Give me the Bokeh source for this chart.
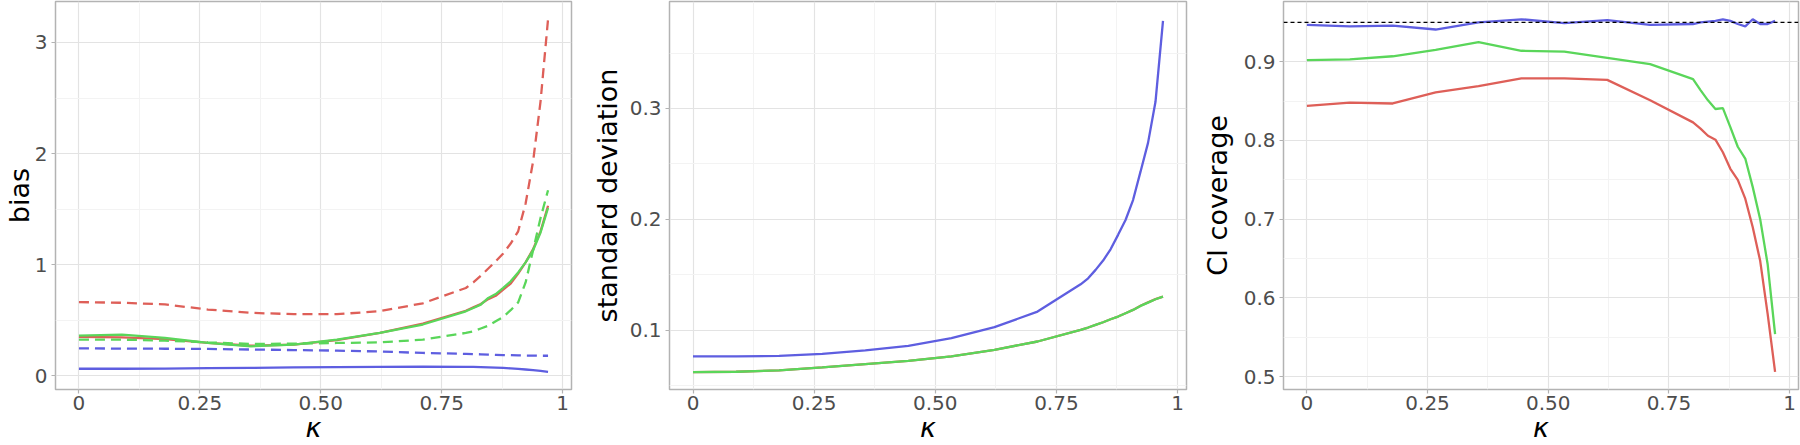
from bokeh.plotting import figure
from bokeh.layouts import row
from bokeh.models import FixedTicker, Span, Range1d
from bokeh.embed import file_html
from bokeh.resources import INLINE

# ---------------- data ----------------
kappa = [0.0, 0.0889, 0.1778, 0.2667, 0.3556, 0.4444, 0.5333, 0.6222, 0.7111, 0.8,
         0.8155, 0.8309, 0.8464, 0.8618, 0.8773, 0.8927, 0.9082, 0.9236, 0.9391, 0.9545, 0.97]

# bias panel
bias_red_solid = [0.35, 0.345, 0.33, 0.295, 0.27, 0.28, 0.32, 0.385, 0.47, 0.585,
                  0.615, 0.645, 0.69, 0.72, 0.775, 0.83, 0.92, 1.02, 1.14, 1.30, 1.53]
bias_red_dashed = [0.663, 0.657, 0.642, 0.596, 0.566, 0.554, 0.554, 0.581, 0.652, 0.79,
                   0.84, 0.90, 0.965, 1.03, 1.10, 1.19, 1.30, 1.55, 1.93, 2.47, 3.21]
bias_green_solid = [0.361, 0.370, 0.34, 0.295, 0.265, 0.28, 0.325, 0.386, 0.461, 0.58,
                    0.61, 0.64, 0.70, 0.735, 0.79, 0.85, 0.93, 1.02, 1.13, 1.29, 1.51]
bias_green_dashed = [0.325, 0.325, 0.316, 0.30, 0.286, 0.289, 0.295, 0.30, 0.325, 0.385,
                     0.40, 0.425, 0.45, 0.49, 0.53, 0.59, 0.66, 0.84, 1.13, 1.42, 1.67]
bias_blue_solid = [0.063, 0.063, 0.064, 0.068, 0.071, 0.075, 0.078, 0.080, 0.082, 0.080,
                   0.079, 0.077, 0.075, 0.073, 0.070, 0.066, 0.062, 0.056, 0.050, 0.043, 0.035]
bias_blue_dashed = [0.247, 0.244, 0.243, 0.241, 0.236, 0.231, 0.226, 0.218, 0.205, 0.197,
                    0.195, 0.193, 0.190, 0.188, 0.186, 0.185, 0.183, 0.182, 0.181, 0.180, 0.180]

# standard deviation panel
sd_red = [0.0622, 0.0625, 0.0637, 0.0664, 0.0694, 0.0724, 0.0763, 0.0823, 0.0898, 0.1003,
          0.1024, 0.1048, 0.1072, 0.1099, 0.1123, 0.1153, 0.1183, 0.1221, 0.1251, 0.1280, 0.1303]
sd_green = [0.0622, 0.0625, 0.0637, 0.0664, 0.0694, 0.0724, 0.0763, 0.0823, 0.0898, 0.1003,
            0.1024, 0.1048, 0.1072, 0.1099, 0.1123, 0.1153, 0.1183, 0.1219, 0.1249, 0.1279, 0.1303]
sd_blue = [0.0763, 0.0763, 0.0769, 0.0787, 0.0817, 0.0859, 0.0928, 0.1027, 0.1168, 0.1414,
           0.1468, 0.1544, 0.1628, 0.1730, 0.1860, 0.1994, 0.2174, 0.2430, 0.2690, 0.3060, 0.3790]

# CI coverage panel
ci_red = [0.844, 0.848, 0.847, 0.861, 0.869, 0.879, 0.879, 0.877, 0.851, 0.823,
          0.815, 0.806, 0.801, 0.785, 0.764, 0.750, 0.726, 0.690, 0.647, 0.580, 0.506]
ci_green = [0.902, 0.903, 0.907, 0.915, 0.925, 0.914, 0.913, 0.905, 0.897, 0.878,
            0.864, 0.851, 0.840, 0.841, 0.817, 0.792, 0.777, 0.741, 0.700, 0.643, 0.554]
ci_blue = [0.947, 0.945, 0.946, 0.941, 0.950, 0.954, 0.949, 0.953, 0.947, 0.948,
           0.950, 0.951, 0.952, 0.954, 0.952, 0.948, 0.945, 0.954, 0.948, 0.948, 0.952]
ci_nominal = 0.95

x_ticks = [0, 0.25, 0.5, 0.75, 1]
x_tick_labels = ["0", "0.25", "0.50", "0.75", "1"]
x_minor = [0.125, 0.375, 0.625, 0.875]

bias_ticks = [0, 1, 2, 3]
bias_tick_labels = ["0", "1", "2", "3"]
bias_minor = [0.5, 1.5, 2.5]
sd_ticks = [0.1, 0.2, 0.3]
sd_tick_labels = ["0.1", "0.2", "0.3"]
sd_minor = [0.05, 0.15, 0.25, 0.35]
ci_ticks = [0.5, 0.6, 0.7, 0.8, 0.9]
ci_tick_labels = ["0.5", "0.6", "0.7", "0.8", "0.9"]
ci_minor = [0.55, 0.65, 0.75, 0.85, 0.95]

RED = "#DE5F58"
GREEN = "#5AD65A"
BLUE = "#5E5EE0"
FONT = "DejaVu Sans"
X_RANGE = (-0.0485, 1.0185)
H = 445
BTOP = 1
BBOT = 56


def make_fig(width, bl, br, yr, yt, ytl, ym, ylabel, y_standoff):
    p = figure(width=width, height=H, x_range=Range1d(*X_RANGE), y_range=Range1d(*yr),
               output_backend="svg", toolbar_location=None,
               min_border_left=bl, min_border_right=br,
               min_border_top=BTOP, min_border_bottom=BBOT)
    p.background_fill_color = "white"
    p.border_fill_color = "white"
    p.outline_line_color = "#B3B3B3"
    p.outline_line_width = 1.5

    p.xaxis.ticker = FixedTicker(ticks=x_ticks, minor_ticks=x_minor)
    p.xaxis.major_label_overrides = {float(t): l for t, l in zip(x_ticks, x_tick_labels)}
    p.yaxis.ticker = FixedTicker(ticks=yt, minor_ticks=ym)
    p.yaxis.major_label_overrides = {float(t): l for t, l in zip(yt, ytl)}
    for ax in (p.xaxis[0], p.yaxis[0]):
        ax.axis_line_color = None
        ax.major_tick_line_color = "#B3B3B3"
        ax.major_tick_line_width = 1.2
        ax.major_tick_in = 0
        ax.major_tick_out = 4
        ax.minor_tick_line_color = None
        ax.major_label_text_font = FONT
        ax.major_label_text_font_size = "20px"
        ax.major_label_text_color = "#4D4D4D"
        ax.axis_label_text_font = FONT
        ax.axis_label_text_font_size = "27px"
        ax.axis_label_text_color = "black"
    p.xaxis.major_label_standoff = 2
    p.yaxis.major_label_standoff = 4
    p.xaxis.axis_label = "κ"
    p.xaxis.axis_label_text_font_style = "italic"
    p.xaxis.axis_label_standoff = -1
    p.yaxis.axis_label = ylabel
    p.yaxis.axis_label_text_font_style = "normal"
    p.yaxis.axis_label_standoff = y_standoff

    for g in (p.xgrid[0], p.ygrid[0]):
        g.grid_line_color = "#E3E3E3"
        g.grid_line_width = 1.2
        g.minor_grid_line_color = "#F3F3F3"
        g.minor_grid_line_width = 1.0
    return p


LW = 2.3
DASH = "10 6"

p1 = make_fig(588, 50, 17, (-0.124, 3.369), bias_ticks, bias_tick_labels, bias_minor, "bias", -3)
p1.line(kappa, bias_red_dashed, color=RED, line_width=LW, line_dash=DASH)
p1.line(kappa, bias_red_solid, color=RED, line_width=LW)
p1.line(kappa, bias_green_dashed, color=GREEN, line_width=LW, line_dash=DASH)
p1.line(kappa, bias_green_solid, color=GREEN, line_width=LW)
p1.line(kappa, bias_blue_dashed, color=BLUE, line_width=LW, line_dash=DASH)
p1.line(kappa, bias_blue_solid, color=BLUE, line_width=LW)

p2 = make_fig(610, 76, 12, (0.0465, 0.3965), sd_ticks, sd_tick_labels, sd_minor, "standard deviation", 4)
p2.line(kappa, sd_red, color=RED, line_width=LW)
p2.line(kappa, sd_green, color=GREEN, line_width=LW)
p2.line(kappa, sd_blue, color=BLUE, line_width=LW)

p3 = make_fig(602, 80, 2, (0.4835, 0.9766), ci_ticks, ci_tick_labels, ci_minor, "CI coverage", 8)
p3.line(kappa, ci_red, color=RED, line_width=LW)
p3.line(kappa, ci_green, color=GREEN, line_width=LW)
p3.line(kappa, ci_blue, color=BLUE, line_width=LW)
p3.add_layout(Span(location=ci_nominal, dimension="width", line_color="black",
                   line_width=1.2, line_dash="4 3"))

layout = row(p1, p2, p3)
open("out.html", "w").write(file_html(layout, INLINE))
